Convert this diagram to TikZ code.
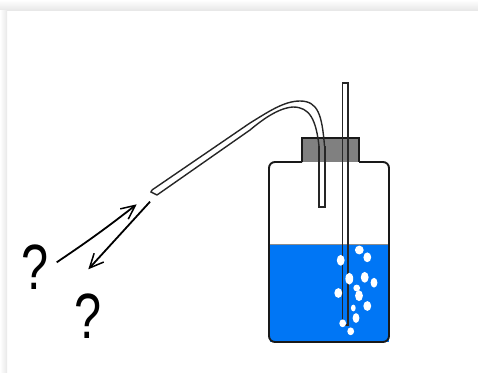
\documentclass[tikz,border=0pt]{standalone}
\usepackage{fontspec}
\usepackage{xcolor}
\usetikzlibrary{arrows.meta}
\setmainfont{Liberation Sans}
\definecolor{waterblue}{RGB}{0,118,245}
\definecolor{capgray}{RGB}{128,128,128}
\tikzset{
  glass/.style={line width=1.9pt,black!90},
  tube/.style={line width=1.4pt,black!85},
  bubble/.style={fill=white,draw=none},
  flowarrow/.style={line width=1.8pt,-{Straight Barb[length=14pt,width=13pt,line width=1.5pt]}},
  query/.style={inner sep=0pt,font=\fontsize{64}{64}\selectfont,xscale=0.76}
}
\begin{document}
\begin{tikzpicture}[x=1pt,y=-1pt]
    \useasboundingbox (0,0) rectangle (478,372);
    % page edge
    \shade[top color=white,bottom color=black!9] (0,0) rectangle (478,10);
    \shade[left color=white,right color=black!9] (0,10) rectangle (7,372);
    % water
    \fill[waterblue] (270,244) rectangle (389,342);
    \draw[black!45,line width=0.6pt] (270,244) -- (389,244);
    % cap
    \fill[capgray] (302,138) rectangle (359,162);
    \draw[glass] (302,162) -- (302,138) -- (359,138) -- (359,162);
    % short tube and flexible tube
    \draw[tube] (319,146) -- (319,207) -- (325,207) -- (325,146);
    \draw[tube] (324.5,146) .. controls (322,115) and (318,101) .. (300,101)
      .. controls (284,101) and (268,112) .. (250,123) -- (152,190);
    \draw[tube] (319,146) .. controls (316,120) and (310,107) .. (293,107)
      .. controls (278,108) and (262,120) .. (250,130) -- (157,195);
    \draw[tube] (152,190) -- (151,192) -- (157,195);
    % long tube
    \draw[tube] (342.5,325) -- (342.5,83) -- (348,83) -- (348,325) -- cycle;
    % bottle
    \draw[glass] (302,162) -- (275,162) to[out=180,in=90] (269,168) -- (269,336)
      to[out=-90,in=180] (275,342) -- (383,342) to[out=0,in=-90] (389,336)
      -- (389,168) to[out=90,in=0] (383,162) -- (359,162);
    % bubbles
    \foreach \bx/\by/\rx/\ry in {359.3/250/4.4/4.4,367.3/257.3/3.9/4.9,340.7/260.3/3.9/5.4,
      349.3/278.7/3.9/5.9,364.7/277.3/3.9/5.4,374/282.7/3.4/4.9,356.7/288/3.4/3.4,359/295.7/3.9/5.4,
      338.3/293/3.9/4.9,367.3/306/3.9/4.9,353.3/308/2.4/3.4,356/318/3.4/4.9,342.7/323.3/3.4/3.9,
      350.7/331.3/3.4/3.9}
      \fill[bubble] (\bx,\by) ellipse [x radius=\rx,y radius=\ry];
    % arrows and question marks
    \node[query] (queryleft) at (35,267) {?};
    \node[query] (querylow) at (88,316) {?};
    \coordinate (arrowstart) at (56.7,262.3);
    \coordinate (arrowtip) at (136.7,204.3);
    \coordinate (backstart) at (150,201.7);
    \coordinate (backtip) at (88.3,269.3);
    \draw[flowarrow] (arrowstart) to[bend right=2] (arrowtip);
    \draw[flowarrow] (backstart) -- (backtip);
\end{tikzpicture}
\end{document}
